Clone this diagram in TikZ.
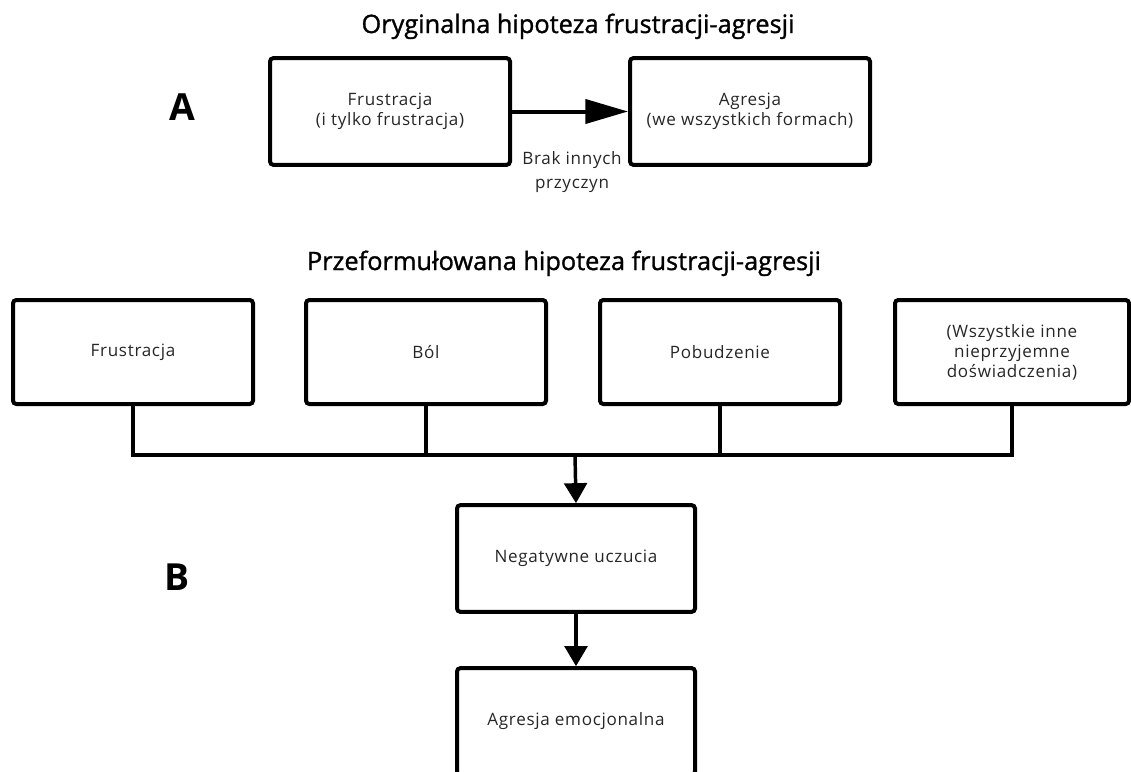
\documentclass[tikz,border=0pt]{standalone}
\usepackage{fontspec}
\setmainfont{Open Sans}
\newfontfamily\headfont[FakeBold=1.2]{Open Sans}
\newfontfamily\boxfont[LetterSpace=4]{Open Sans}
\usetikzlibrary{arrows.meta}
\begin{document}
\begin{tikzpicture}[x=0.75pt,y=-0.75pt,
  box/.style={draw, line width=3pt, rounded corners=2.5pt, minimum width=180pt,
    minimum height=80pt, align=center, inner sep=0pt, text=black!85,
    font=\boxfont\fontsize{12.8}{15}\selectfont},
  link/.style={line width=2.6pt},
  bigtip/.style={-{Triangle[length=32pt,width=18pt]}},
  tip/.style={-{Triangle[length=15pt,width=17pt]}},
  heading/.style={anchor=base, font=\headfont\fontsize{19}{22}\selectfont},
  panel/.style={anchor=base, font=\fontsize{28}{30}\selectfont\bfseries},
  note/.style={align=center, text=black!85, font=\boxfont\fontsize{12.8}{18}\selectfont}]
\useasboundingbox (0,0) rectangle (1131,771);

% Part A: the original hypothesis
\node[heading] (ta) at (578,33) {Oryginalna hipoteza frustracji-agresji};
\node[panel] (pa) at (182,120) {A};
\node[box] (a1) at (390,111.5) {Frustracja\\(i tylko frustracja)};
\node[box] (a2) at (750,111.5) {Agresja\\(we wszystkich formach)};
\draw[link, line width=3pt, bigtip] (a1.east) -- (a2.west);
\node[note] (why) at (572,172) {Brak innych\\przyczyn};

% Part B: the reformulated hypothesis
\node[heading] (tb) at (564,270) {Przeformułowana hipoteza frustracji-agresji};
\node[panel] (pb) at (177,590) {B};
\node[box, minimum height=78pt] (b1) at (133,352) {Frustracja};
\node[box, minimum height=78pt] (b2) at (426,352) {Ból};
\node[box, minimum height=78pt] (b3) at (720,352) {Pobudzenie};
\node[box, minimum height=78pt, minimum width=175.5pt] (b4) at (1012,352)
  {(Wszystkie inne\\nieprzyjemne\\doświadczenia)};

\coordinate (bus) at (575,455);
\draw[link] (b1.south) |- (bus) -| (b4.south);
\draw[link] (b2.south) -- (b2.south |- bus);
\draw[link] (b3.south) -- (b3.south |- bus);

\node[box, minimum width=178.5pt] (n) at (576,558.5) {Negatywne uczucia};
\node[box, minimum width=178.5pt] (e) at (576,721.5) {Agresja emocjonalna};
\draw[link, tip] (bus) -- (n.north);
\draw[link, tip] (n.south) -- (e.north);
\end{tikzpicture}
\end{document}
